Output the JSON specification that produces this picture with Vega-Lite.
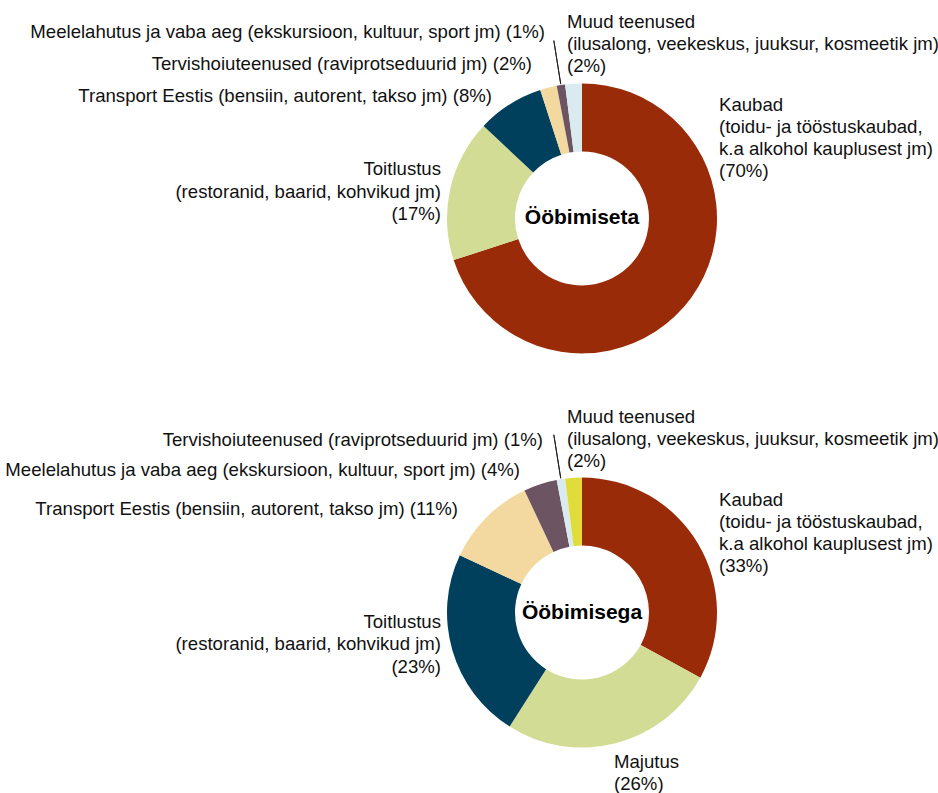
{
  "$schema": "https://vega.github.io/schema/vega-lite/v6.json",
  "autosize": {"type": "none"},
  "width": 712,
  "height": 749,
  "padding": {"left": 226, "top": 41, "right": 0, "bottom": 3},
  "background": "#ffffff",
  "config": {"view": {"stroke": null}},
  "data": {
    "values": [
      {"group": "Ööbimiseta", "order": 1, "cat": "Kaubad", "pct": 70, "label": "Kaubad\n(toidu- ja tööstuskaubad,\nk.a alkohol kauplusest jm)\n(70%)"},
      {"group": "Ööbimiseta", "order": 2, "cat": "Toitlustus", "pct": 17, "label": "Toitlustus\n(restoranid, baarid, kohvikud jm)\n(17%)"},
      {"group": "Ööbimiseta", "order": 3, "cat": "Transport", "pct": 8, "label": "Transport Eestis (bensiin, autorent, takso jm) (8%)"},
      {"group": "Ööbimiseta", "order": 4, "cat": "Tervishoiu", "pct": 2, "label": "Tervishoiuteenused (raviprotseduurid jm) (2%)"},
      {"group": "Ööbimiseta", "order": 5, "cat": "Meelelahutus", "pct": 1, "label": "Meelelahutus ja vaba aeg (ekskursioon, kultuur, sport jm) (1%)"},
      {"group": "Ööbimiseta", "order": 6, "cat": "Muud", "pct": 2, "label": "Muud teenused\n(ilusalong, veekeskus, juuksur, kosmeetik jm)\n(2%)"},
      {"group": "Ööbimisega", "order": 1, "cat": "Kaubad", "pct": 33, "label": "Kaubad\n(toidu- ja tööstuskaubad,\nk.a alkohol kauplusest jm)\n(33%)"},
      {"group": "Ööbimisega", "order": 2, "cat": "Majutus", "pct": 26, "label": "Majutus\n(26%)"},
      {"group": "Ööbimisega", "order": 3, "cat": "Toitlustus", "pct": 23, "label": "Toitlustus\n(restoranid, baarid, kohvikud jm)\n(23%)"},
      {"group": "Ööbimisega", "order": 4, "cat": "Transport", "pct": 11, "label": "Transport Eestis (bensiin, autorent, takso jm) (11%)"},
      {"group": "Ööbimisega", "order": 5, "cat": "Meelelahutus", "pct": 4, "label": "Meelelahutus ja vaba aeg (ekskursioon, kultuur, sport jm) (4%)"},
      {"group": "Ööbimisega", "order": 6, "cat": "Tervishoiu", "pct": 1, "label": "Tervishoiuteenused (raviprotseduurid jm) (1%)"},
      {"group": "Ööbimisega", "order": 7, "cat": "Muud", "pct": 2, "label": "Muud teenused\n(ilusalong, veekeskus, juuksur, kosmeetik jm)\n(2%)"}
    ]
  },
  "transform": [
    {"stack": "pct", "groupby": ["group"], "sort": [{"field": "order", "order": "ascending"}], "as": ["start", "end"]}
  ],
  "encoding": {
    "y": {"field": "group", "type": "nominal", "scale": {"type": "point", "domain": ["Ööbimiseta", "Ööbimisega"], "padding": 0.45}, "axis": null}
  },
  "layer": [
    {
      "mark": {"type": "arc", "outerRadius": 135, "innerRadius": 67},
      "encoding": {
        "theta": {"field": "start", "type": "quantitative", "scale": {"domain": [0, 100]}, "stack": null},
        "theta2": {"field": "end"},
        "color": {"field": "order", "type": "ordinal", "scale": {"domain": [1, 2, 3, 4, 5, 6, 7], "range": ["#9A2B08", "#D3DC95", "#00405C", "#F3D9A0", "#6D5463", "#DAEBF0", "#DFDC3C"]}, "legend": null}
      }
    },
    {
      "transform": [
        {"filter": {"or": [{"and": [{"field": "group", "equal": "Ööbimiseta"}, {"field": "cat", "equal": "Meelelahutus"}]}, {"and": [{"field": "group", "equal": "Ööbimisega"}, {"field": "cat", "equal": "Tervishoiu"}]}]}},
        {"fold": ["start", "end"], "as": ["edge", "t"]},
        {"aggregate": [{"op": "mean", "field": "t", "as": "mid"}], "groupby": ["group", "cat"]}
      ],
      "mark": {"type": "arc", "outerRadius": 180, "innerRadius": 136, "fill": "transparent", "stroke": "#222222", "strokeWidth": 1},
      "encoding": {
        "theta": {"field": "mid", "type": "quantitative", "scale": {"domain": [0, 100]}, "stack": null},
        "theta2": {"field": "mid"}
      }
    },
    {
      "transform": [{"filter": {"field": "order", "equal": 1}}],
      "mark": {"type": "text", "align": "center", "baseline": "middle", "dy": 0, "fontSize": 21, "fontWeight": "bold", "font": "Liberation Sans", "color": "#000000"},
      "encoding": {"text": {"field": "group", "type": "nominal"}}
    },
    {
      "transform": [{"filter": {"field": "cat", "equal": "Kaubad"}}],
      "mark": {"type": "text", "align": "left", "baseline": "top", "dx": 137, "dy": -122, "lineBreak": "\n", "lineHeight": 22, "fontSize": 18.6, "font": "Liberation Sans", "color": "#111111"},
      "encoding": {"text": {"field": "label", "type": "nominal"}}
    },
    {
      "transform": [{"filter": {"field": "cat", "equal": "Muud"}}],
      "mark": {"type": "text", "align": "left", "baseline": "top", "dx": -15, "dy": -205, "lineBreak": "\n", "lineHeight": 22, "fontSize": 18.6, "font": "Liberation Sans", "color": "#111111"},
      "encoding": {"text": {"field": "label", "type": "nominal"}}
    },
    {
      "transform": [{"filter": {"and": [{"field": "group", "equal": "Ööbimiseta"}, {"field": "cat", "equal": "Toitlustus"}]}}],
      "mark": {"type": "text", "align": "right", "baseline": "top", "dx": -141, "dy": -58, "lineBreak": "\n", "lineHeight": 22.5, "fontSize": 18.6, "font": "Liberation Sans", "color": "#111111"},
      "encoding": {"text": {"field": "label", "type": "nominal"}}
    },
    {
      "transform": [{"filter": {"and": [{"field": "group", "equal": "Ööbimisega"}, {"field": "cat", "equal": "Toitlustus"}]}}],
      "mark": {"type": "text", "align": "right", "baseline": "top", "dx": -141, "dy": 0, "lineBreak": "\n", "lineHeight": 22.5, "fontSize": 18.6, "font": "Liberation Sans", "color": "#111111"},
      "encoding": {"text": {"field": "label", "type": "nominal"}}
    },
    {
      "transform": [{"filter": {"field": "cat", "equal": "Majutus"}}],
      "mark": {"type": "text", "align": "left", "baseline": "top", "dx": 32, "dy": 140, "lineBreak": "\n", "lineHeight": 22.5, "fontSize": 18.6, "font": "Liberation Sans", "color": "#111111"},
      "encoding": {"text": {"field": "label", "type": "nominal"}}
    },
    {
      "transform": [{"filter": {"and": [{"field": "group", "equal": "Ööbimiseta"}, {"field": "cat", "equal": "Transport"}]}}],
      "mark": {"type": "text", "align": "right", "baseline": "middle", "dx": -90, "dy": -122, "fontSize": 18.6, "font": "Liberation Sans", "color": "#111111"},
      "encoding": {"text": {"field": "label", "type": "nominal"}}
    },
    {
      "transform": [{"filter": {"and": [{"field": "group", "equal": "Ööbimisega"}, {"field": "cat", "equal": "Transport"}]}}],
      "mark": {"type": "text", "align": "right", "baseline": "middle", "dx": -124, "dy": -104, "fontSize": 18.6, "font": "Liberation Sans", "color": "#111111"},
      "encoding": {"text": {"field": "label", "type": "nominal"}}
    },
    {
      "transform": [{"filter": {"and": [{"field": "group", "equal": "Ööbimiseta"}, {"field": "cat", "equal": "Tervishoiu"}]}}],
      "mark": {"type": "text", "align": "right", "baseline": "middle", "dx": -50, "dy": -154, "fontSize": 18.6, "font": "Liberation Sans", "color": "#111111"},
      "encoding": {"text": {"field": "label", "type": "nominal"}}
    },
    {
      "transform": [{"filter": {"and": [{"field": "group", "equal": "Ööbimisega"}, {"field": "cat", "equal": "Tervishoiu"}]}}],
      "mark": {"type": "text", "align": "right", "baseline": "middle", "dx": -39, "dy": -173, "fontSize": 18.6, "font": "Liberation Sans", "color": "#111111"},
      "encoding": {"text": {"field": "label", "type": "nominal"}}
    },
    {
      "transform": [{"filter": {"and": [{"field": "group", "equal": "Ööbimiseta"}, {"field": "cat", "equal": "Meelelahutus"}]}}],
      "mark": {"type": "text", "align": "right", "baseline": "middle", "dx": -37, "dy": -186, "fontSize": 18.6, "font": "Liberation Sans", "color": "#111111"},
      "encoding": {"text": {"field": "label", "type": "nominal"}}
    },
    {
      "transform": [{"filter": {"and": [{"field": "group", "equal": "Ööbimisega"}, {"field": "cat", "equal": "Meelelahutus"}]}}],
      "mark": {"type": "text", "align": "right", "baseline": "middle", "dx": -62, "dy": -143, "fontSize": 18.6, "font": "Liberation Sans", "color": "#111111"},
      "encoding": {"text": {"field": "label", "type": "nominal"}}
    }
  ]
}
